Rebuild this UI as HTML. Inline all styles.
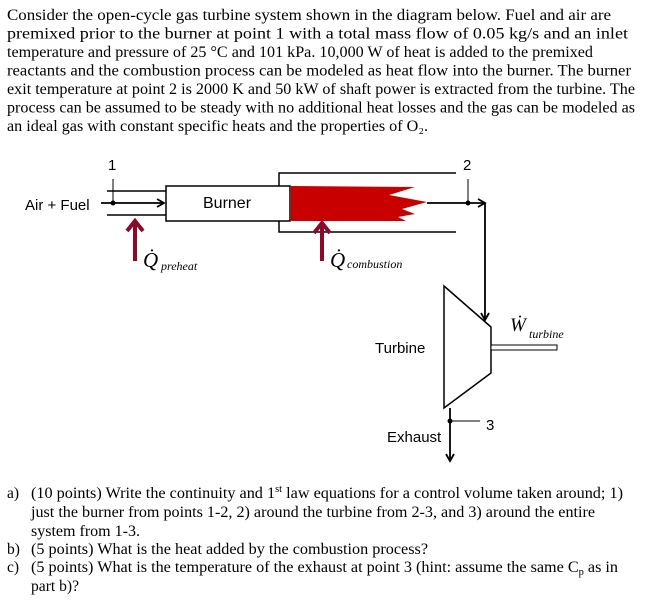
<!DOCTYPE html>
<html><head><meta charset="utf-8"><style>
html,body{margin:0;padding:0;background:#fff;}
svg{display:block;}
.t{font-family:"Liberation Serif",serif;font-size:15.5px;fill:#000;}
.s{font-family:"Liberation Sans",sans-serif;font-size:15px;fill:#000;}
.q{font-family:"Liberation Serif",serif;font-style:italic;fill:#000;}
</style></head><body>
<svg width="647" height="611" viewBox="0 0 647 611" xmlns="http://www.w3.org/2000/svg">
<defs>
<marker id="ah" markerWidth="10" markerHeight="10" refX="8" refY="5" orient="auto" markerUnits="userSpaceOnUse">
<path d="M1,1 L8,5 L1,9" fill="none" stroke="#000" stroke-width="1.8"/></marker>
</defs>
<g class="t">
<text x="7" y="20" textLength="604" lengthAdjust="spacingAndGlyphs">Consider the open-cycle gas turbine system shown in the diagram below. Fuel and air are</text>
<text x="7" y="38.5" textLength="621" lengthAdjust="spacingAndGlyphs">premixed prior to the burner at point 1 with a total mass flow of 0.05 kg/s and an inlet</text>
<text x="7" y="57" textLength="586" lengthAdjust="spacingAndGlyphs">temperature and pressure of 25 °C and 101 kPa. 10,000 W of heat is added to the premixed</text>
<text x="7" y="75.5" textLength="624" lengthAdjust="spacingAndGlyphs">reactants and the combustion process can be modeled as heat flow into the burner. The burner</text>
<text x="7" y="94" textLength="628" lengthAdjust="spacingAndGlyphs">exit temperature at point 2 is 2000 K and 50 kW of shaft power is extracted from the turbine. The</text>
<text x="7" y="112.5" textLength="628" lengthAdjust="spacingAndGlyphs">process can be assumed to be steady with no additional heat losses and the gas can be modeled as</text>
<text x="7" y="131" textLength="421" lengthAdjust="spacingAndGlyphs">an ideal gas with constant specific heats and the properties of O₂.</text>
</g>
<!-- diagram -->
<text class="s" x="108" y="170">1</text>
<text class="s" x="463" y="170">2</text>
<text class="s" x="25" y="210">Air + Fuel</text>
<line x1="107" y1="191" x2="166" y2="191" stroke="#000" stroke-width="1.5"/>
<line x1="107" y1="215" x2="166" y2="215" stroke="#000" stroke-width="1.5"/>
<line x1="101" y1="203" x2="164" y2="203" stroke="#000" stroke-width="1.8" marker-end="url(#ah)"/>
<line x1="113" y1="179" x2="113" y2="203" stroke="#000" stroke-width="1"/>
<circle cx="113" cy="203" r="2.5" fill="#000"/>
<rect x="166" y="186" width="124" height="35" fill="#fff" stroke="#000" stroke-width="1.5"/>
<text class="s" x="203" y="208" style="font-size:16px">Burner</text>
<polyline points="279,186 279,173 456,173" fill="none" stroke="#000" stroke-width="1.5"/>
<polyline points="279,221 279,232 456,232" fill="none" stroke="#000" stroke-width="1.5"/>
<polygon points="291,186 415,187 389,195 427,202 402,209 415,214 398,217 406,221 291,221" fill="#c80000"/>
<line x1="427" y1="203" x2="485" y2="203" stroke="#000" stroke-width="1.8" marker-end="url(#ah)"/>
<line x1="468" y1="179" x2="468" y2="203" stroke="#000" stroke-width="1"/>
<circle cx="468" cy="203" r="2.5" fill="#000"/>
<line x1="485" y1="203" x2="485" y2="320" stroke="#000" stroke-width="1.8" marker-end="url(#ah)"/>
<!-- heat arrows -->
<g stroke="#8b0a2a" stroke-width="4" fill="none">
<line x1="135" y1="261" x2="135" y2="222"/><polyline points="127,231 135,221 143,231"/>
<line x1="322" y1="261" x2="322" y2="224"/><polyline points="314,233 322,223 330,233"/>
</g>
<text class="q" x="143" y="267" style="font-size:21px">Q̇</text>
<text class="q" x="161" y="270" style="font-size:12px">preheat</text>
<text class="q" x="330" y="267" style="font-size:21px">Q̇</text>
<text class="q" x="347" y="268" style="font-size:12px">combustion</text>
<!-- turbine -->
<polygon points="444,286 491,327 491,373 444,408" fill="#fff" stroke="#000" stroke-width="1.5"/>
<rect x="491" y="345" width="66" height="5" fill="#fff" stroke="#000" stroke-width="1"/>
<text class="q" x="510" y="331" style="font-size:19px">Ẇ</text>
<text class="q" x="529" y="338" style="font-size:12px">turbine</text>
<text class="s" x="375" y="353">Turbine</text>
<line x1="450" y1="408" x2="450" y2="461" stroke="#000" stroke-width="1.8" marker-end="url(#ah)"/>
<line x1="450" y1="421" x2="480" y2="421" stroke="#000" stroke-width="1"/>
<circle cx="450" cy="421" r="2.5" fill="#000"/>
<text class="s" x="486" y="430">3</text>
<text class="s" x="387" y="442">Exhaust</text>
<!-- questions -->
<g class="t">
<text x="7" y="498">a)</text>
<text x="31" y="498" textLength="592" lengthAdjust="spacingAndGlyphs">(10 points) Write the continuity and 1<tspan dy="-6" style="font-size:10px">st</tspan><tspan dy="6"> law equations for a control volume taken around; 1)</tspan></text>
<text x="31" y="517" textLength="564" lengthAdjust="spacingAndGlyphs">just the burner from points 1-2, 2) around the turbine from 2-3, and 3) around the entire</text>
<text x="31" y="536" textLength="109" lengthAdjust="spacingAndGlyphs">system from 1-3.</text>
<text x="7" y="554">b)</text>
<text x="31" y="554" textLength="397" lengthAdjust="spacingAndGlyphs">(5 points) What is the heat added by the combustion process?</text>
<text x="7" y="572">c)</text>
<text x="31" y="572" textLength="587" lengthAdjust="spacingAndGlyphs">(5 points) What is the temperature of the exhaust at point 3 (hint: assume the same C<tspan dy="3" style="font-size:10px">p</tspan><tspan dy="-3"> as in</tspan></text>
<text x="31" y="591" textLength="48" lengthAdjust="spacingAndGlyphs">part b)?</text>
</g>
</svg>
</body></html>
